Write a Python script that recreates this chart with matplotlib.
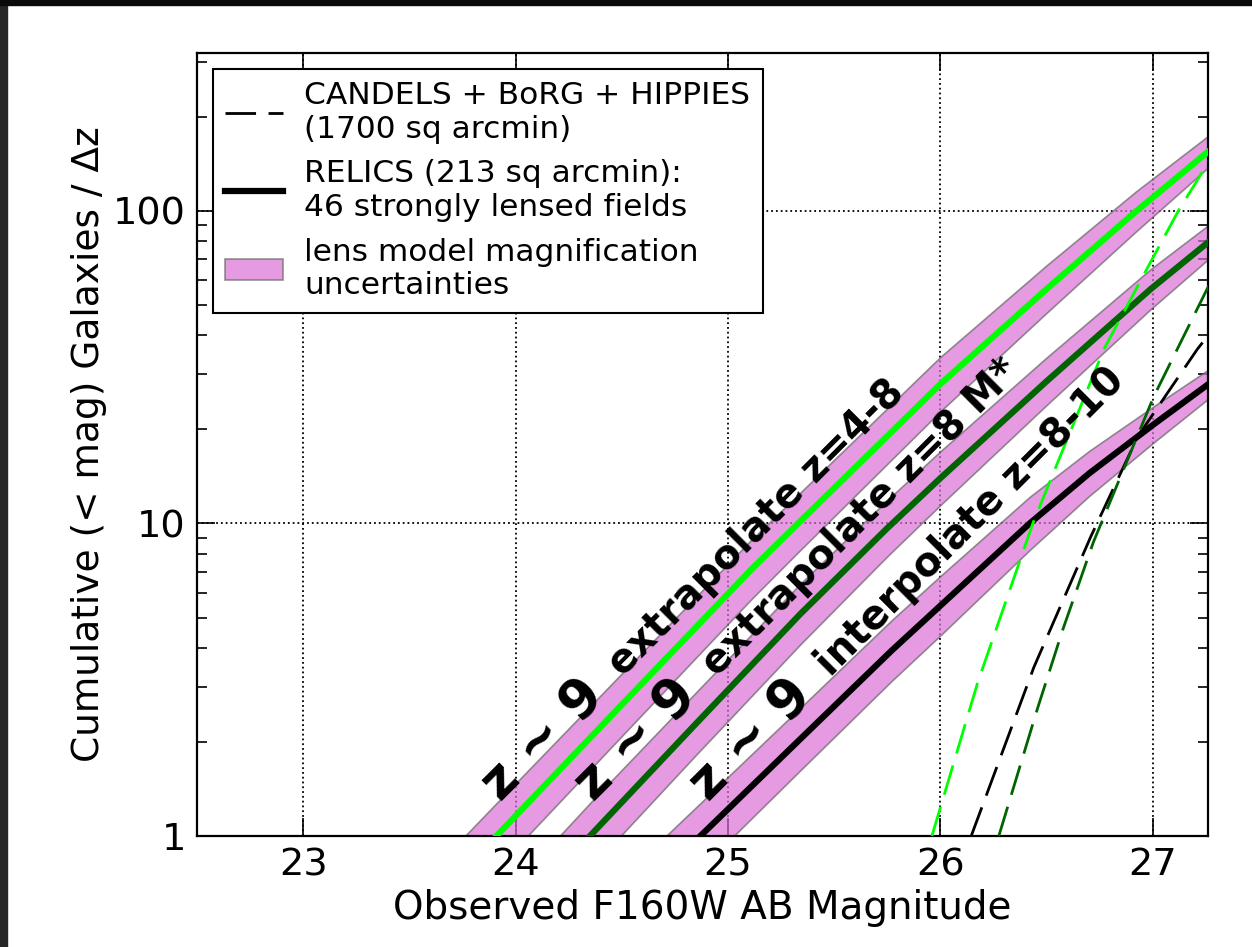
import numpy as np
import matplotlib.pyplot as plt
from matplotlib.patches import Patch, Rectangle
from matplotlib.lines import Line2D
from matplotlib.ticker import FixedLocator, FixedFormatter, LogLocator, NullFormatter

# RELICS z~9 predictions: magnitude, log10 N, band half-width in dex
mag_z48 = [23.75, 23.91, 24.5, 25.11, 25.33, 26.0, 26.5, 26.92, 27.27]
logn_z48 = [-0.115, 0.0, 0.42, 0.853, 1.0, 1.446, 1.75, 1.998, 2.195]
band_z48 = [0.107, 0.105, 0.10, 0.095, 0.092, 0.087, 0.076, 0.064, 0.05]

mag_z8m = [24.2, 24.35, 24.85, 25.34, 25.75, 26.0, 26.5, 26.99, 27.27]
logn_z8m = [-0.11, 0.0, 0.36, 0.71, 0.985, 1.145, 1.455, 1.75, 1.905]
band_z8m = [0.105, 0.105, 0.10, 0.097, 0.09, 0.086, 0.076, 0.064, 0.054]

mag_z810 = [24.7, 24.87, 25.34, 25.77, 26.0, 26.42, 26.7, 27.0, 27.27]
logn_z810 = [-0.11, 0.0, 0.31, 0.593, 0.737, 1.0, 1.16, 1.315, 1.45]
band_z810 = [0.105, 0.105, 0.10, 0.097, 0.095, 0.085, 0.072, 0.058, 0.046]

# CANDELS + BoRG + HIPPIES (dashed)
mag_d48 = [25.96, 26.175, 26.435, 26.77, 26.99, 27.12, 27.27]
logn_d48 = [0.0, 0.49, 1.0, 1.558, 1.837, 2.0, 2.165]
mag_d810 = [26.145, 26.44, 26.708, 26.93, 27.21, 27.27]
logn_d810 = [0.0, 0.54, 0.958, 1.279, 1.558, 1.61]
mag_d8m = [26.275, 26.458, 26.576, 26.72, 27.005, 27.27]
logn_d8m = [0.0, 0.41, 0.66, 0.94, 1.407, 1.77]

labels = ["extrapolate z=4-8", "extrapolate z=8 M*", "interpolate z=8-10"]
label_x = [23.93, 24.37, 24.91]

fig = plt.figure(figsize=(12.52, 9.47), dpi=100)
fig.patches.append(Rectangle((0, 0), 7 / 1252, 1, transform=fig.transFigure, color="#262626", zorder=-10))
fig.patches.append(Rectangle((0, 1 - 5 / 947), 1, 5 / 947, transform=fig.transFigure, color="#0a0a0a", zorder=-10))
ax = fig.add_axes([0.1573, 0.1172, 0.8076, 0.8268])

band_kw = dict(facecolor="orchid", alpha=0.7, edgecolor="0.4", linewidth=1.2, zorder=2)
for m, l, b in [(mag_z48, logn_z48, band_z48), (mag_z8m, logn_z8m, band_z8m), (mag_z810, logn_z810, band_z810)]:
    m, l, b = np.array(m), np.array(l), np.array(b)
    ax.fill_between(m, 10 ** (l - b), 10 ** (l + b), **band_kw)

ax.plot(mag_z48, 10 ** np.array(logn_z48), color="#00ff00", lw=4.5, zorder=3)
ax.plot(mag_z8m, 10 ** np.array(logn_z8m), color="#006400", lw=4.5, zorder=3)
ax.plot(mag_z810, 10 ** np.array(logn_z810), color="black", lw=4.5, zorder=3)

dash = (11, 4.5)
ax.plot(mag_d48, 10 ** np.array(logn_d48), color="#00ff00", lw=2, dashes=dash, zorder=4)
ax.plot(mag_d810, 10 ** np.array(logn_d810), color="black", lw=2, dashes=dash, zorder=4)
ax.plot(mag_d8m, 10 ** np.array(logn_d8m), color="#006400", lw=2, dashes=dash, zorder=4)

for x, lab in zip(label_x, labels):
    ax.text(x, 1.28, "z ~ 9", fontsize=38, fontweight="bold", rotation=45,
            rotation_mode="anchor", ha="left", va="baseline", zorder=6)
    ax.annotate(lab, xy=(x, 1.28), xytext=(88, 90), textcoords="offset points",
                fontsize=28.5, fontweight="bold", rotation=45, rotation_mode="anchor",
                ha="left", va="baseline", zorder=6)

ax.set_yscale("log")
ax.set_xlim(22.5, 27.26)
ax.set_ylim(1, 320)
ax.xaxis.set_major_locator(FixedLocator([23, 24, 25, 26, 27]))
ax.yaxis.set_major_locator(FixedLocator([1, 10, 100]))
ax.yaxis.set_major_formatter(FixedFormatter(["1", "10", "100"]))
ax.yaxis.set_minor_locator(LogLocator(base=10, subs=np.arange(2, 10)))
ax.yaxis.set_minor_formatter(NullFormatter())
ax.tick_params(which="both", direction="in", top=True, right=True, width=1.2, labelsize=27.5, pad=8)
ax.tick_params(which="major", length=13)
ax.tick_params(which="minor", length=7)
for s in ax.spines.values():
    s.set_linewidth(1.6)
ax.grid(True, which="major", linestyle=":", color="black", lw=1.3)

ax.set_xlabel("Observed F160W AB Magnitude", fontsize=28)
ax.set_ylabel("Cumulative (< mag) Galaxies / \u0394z", fontsize=27)

handles = [
    Line2D([], [], color="black", lw=2, dashes=dash),
    Line2D([], [], color="black", lw=4.5),
    Patch(facecolor="orchid", alpha=0.7, edgecolor="0.4", linewidth=1.2),
]
leg_labels = [
    "CANDELS + BoRG + HIPPIES\n(1700 sq arcmin)",
    "RELICS (213 sq arcmin):\n46 strongly lensed fields",
    "lens model magnification\nuncertainties",
]
leg = ax.legend(handles, leg_labels, loc="upper left", fontsize=22.5, fancybox=False,
                framealpha=1, edgecolor="black", handlelength=1.85, handletextpad=0.68)
leg.get_frame().set_linewidth(1.5)
leg.set_zorder(10)

fig.savefig("out.png", dpi=100, facecolor="white")
